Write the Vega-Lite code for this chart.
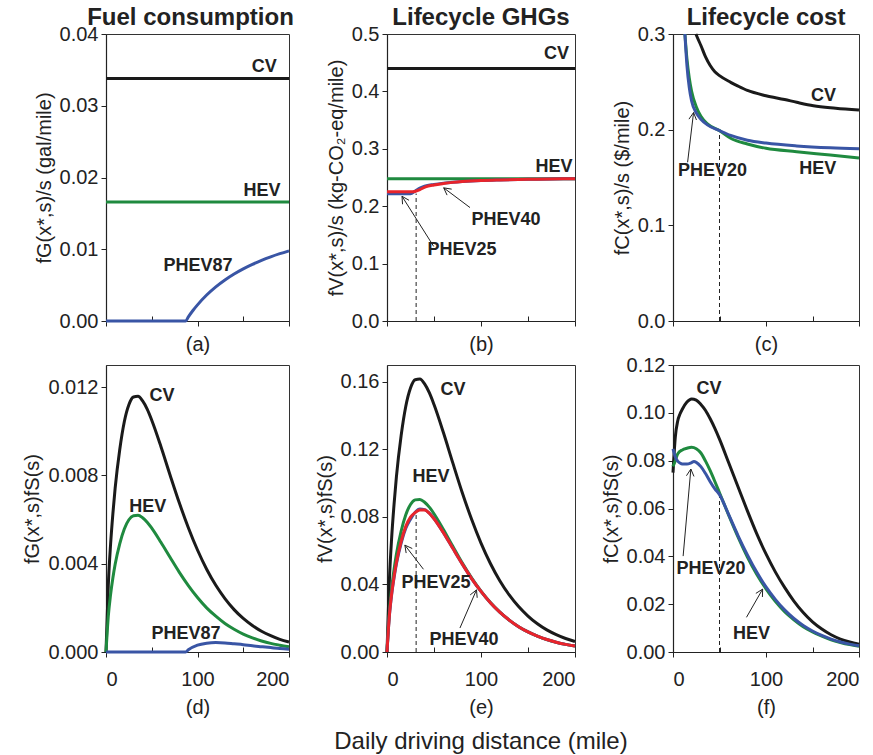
{
"$schema":"https://vega.github.io/schema/vega-lite/v6.json",
"background":"white",
"padding":{"left":22,"top":5,"right":5,"bottom":5},
"bounds":"flush",
"columns":3,
"spacing":{"row":44,"column":98},
"title":{"text":"Daily driving distance (mile)","orient":"bottom","anchor":"middle","frame":"bounds","dx":37,"fontSize":24,"fontWeight":"normal","offset":12,"color":"#222"},
"datasets":{
"curves":[
{"p":"a","k":"CV","s":0,"v":0.0338},{"p":"a","k":"CV","s":200,"v":0.0338},
{"p":"a","k":"HEV","s":0,"v":0.0166},{"p":"a","k":"HEV","s":200,"v":0.0166},
{"p":"a","k":"P","s":0,"v":0},{"p":"a","k":"P","s":87,"v":0},{"p":"a","k":"P","s":90,"v":0.00058},{"p":"a","k":"P","s":95,"v":0.00146},{"p":"a","k":"P","s":100,"v":0.00225},{"p":"a","k":"P","s":110,"v":0.00362},{"p":"a","k":"P","s":120,"v":0.00476},{"p":"a","k":"P","s":130,"v":0.00572},{"p":"a","k":"P","s":140,"v":0.00655},{"p":"a","k":"P","s":150,"v":0.00727},{"p":"a","k":"P","s":160,"v":0.00789},{"p":"a","k":"P","s":170,"v":0.00845},{"p":"a","k":"P","s":180,"v":0.00894},{"p":"a","k":"P","s":190,"v":0.00938},{"p":"a","k":"P","s":200,"v":0.00978},
{"p":"b","k":"CV","s":0,"v":0.44},{"p":"b","k":"CV","s":200,"v":0.44},
{"p":"b","k":"HEV","s":0,"v":0.248},{"p":"b","k":"HEV","s":200,"v":0.248},
{"p":"b","k":"P","s":0,"v":0.2215},{"p":"b","k":"P","s":25,"v":0.2215},{"p":"b","k":"P","s":30,"v":0.2265},{"p":"b","k":"P","s":35,"v":0.2315},{"p":"b","k":"P","s":40,"v":0.235},{"p":"b","k":"P","s":50,"v":0.238},{"p":"b","k":"P","s":60,"v":0.2402},{"p":"b","k":"P","s":70,"v":0.2418},{"p":"b","k":"P","s":80,"v":0.243},{"p":"b","k":"P","s":100,"v":0.2448},{"p":"b","k":"P","s":120,"v":0.2458},{"p":"b","k":"P","s":150,"v":0.2468},{"p":"b","k":"P","s":175,"v":0.2474},{"p":"b","k":"P","s":200,"v":0.248},
{"p":"b","k":"R","s":0,"v":0.225},{"p":"b","k":"R","s":27,"v":0.225},{"p":"b","k":"R","s":35,"v":0.229},{"p":"b","k":"R","s":41,"v":0.2337},{"p":"b","k":"R","s":50,"v":0.237},{"p":"b","k":"R","s":60,"v":0.2395},{"p":"b","k":"R","s":70,"v":0.2415},{"p":"b","k":"R","s":80,"v":0.243},{"p":"b","k":"R","s":100,"v":0.2448},{"p":"b","k":"R","s":120,"v":0.2458},{"p":"b","k":"R","s":150,"v":0.2468},{"p":"b","k":"R","s":175,"v":0.2474},{"p":"b","k":"R","s":200,"v":0.248},
{"p":"c","k":"CV","s":24.6,"v":0.3},{"p":"c","k":"CV","s":27,"v":0.2945},{"p":"c","k":"CV","s":30,"v":0.288},{"p":"c","k":"CV","s":35,"v":0.276},{"p":"c","k":"CV","s":40,"v":0.267},{"p":"c","k":"CV","s":45,"v":0.2605},{"p":"c","k":"CV","s":50,"v":0.2565},{"p":"c","k":"CV","s":62,"v":0.2495},{"p":"c","k":"CV","s":70,"v":0.2455},{"p":"c","k":"CV","s":80,"v":0.241},{"p":"c","k":"CV","s":100,"v":0.2355},{"p":"c","k":"CV","s":120,"v":0.2315},{"p":"c","k":"CV","s":133,"v":0.2286},{"p":"c","k":"CV","s":151,"v":0.225},{"p":"c","k":"CV","s":175,"v":0.2225},{"p":"c","k":"CV","s":200,"v":0.2205},
{"p":"c","k":"HEV","s":12.8,"v":0.3},{"p":"c","k":"HEV","s":15,"v":0.274},{"p":"c","k":"HEV","s":17.5,"v":0.254},{"p":"c","k":"HEV","s":20,"v":0.24},{"p":"c","k":"HEV","s":25,"v":0.224},{"p":"c","k":"HEV","s":30,"v":0.214},{"p":"c","k":"HEV","s":37,"v":0.206},{"p":"c","k":"HEV","s":50,"v":0.199},{"p":"c","k":"HEV","s":62,"v":0.191},{"p":"c","k":"HEV","s":80,"v":0.185},{"p":"c","k":"HEV","s":100,"v":0.1805},{"p":"c","k":"HEV","s":133,"v":0.177},{"p":"c","k":"HEV","s":169,"v":0.1735},{"p":"c","k":"HEV","s":200,"v":0.1704},
{"p":"c","k":"P","s":12.8,"v":0.3},{"p":"c","k":"P","s":15,"v":0.267},{"p":"c","k":"P","s":17.5,"v":0.244},{"p":"c","k":"P","s":20,"v":0.23},{"p":"c","k":"P","s":25,"v":0.2175},{"p":"c","k":"P","s":30,"v":0.211},{"p":"c","k":"P","s":37,"v":0.205},{"p":"c","k":"P","s":50,"v":0.199},{"p":"c","k":"P","s":62,"v":0.194},{"p":"c","k":"P","s":80,"v":0.189},{"p":"c","k":"P","s":100,"v":0.186},{"p":"c","k":"P","s":133,"v":0.183},{"p":"c","k":"P","s":169,"v":0.181},{"p":"c","k":"P","s":200,"v":0.18},
{"p":"d","k":"CV","s":0,"v":0},{"p":"d","k":"CV","s":2.5,"v":0.00302},{"p":"d","k":"CV","s":5,"v":0.00487},{"p":"d","k":"CV","s":7.5,"v":0.00626},{"p":"d","k":"CV","s":10,"v":0.00742},{"p":"d","k":"CV","s":15,"v":0.00916},{"p":"d","k":"CV","s":20,"v":0.01043},{"p":"d","k":"CV","s":25,"v":0.0112},{"p":"d","k":"CV","s":30,"v":0.01155},{"p":"d","k":"CV","s":35,"v":0.01158},{"p":"d","k":"CV","s":40,"v":0.01137},{"p":"d","k":"CV","s":45,"v":0.011},{"p":"d","k":"CV","s":50,"v":0.0105},{"p":"d","k":"CV","s":60,"v":0.00931},{"p":"d","k":"CV","s":70,"v":0.00802},{"p":"d","k":"CV","s":80,"v":0.00677},{"p":"d","k":"CV","s":90,"v":0.00563},{"p":"d","k":"CV","s":100,"v":0.00462},{"p":"d","k":"CV","s":110,"v":0.00375},{"p":"d","k":"CV","s":120,"v":0.00302},{"p":"d","k":"CV","s":130,"v":0.00242},{"p":"d","k":"CV","s":140,"v":0.00192},{"p":"d","k":"CV","s":150,"v":0.00152},{"p":"d","k":"CV","s":160,"v":0.0012},{"p":"d","k":"CV","s":170,"v":0.00094},{"p":"d","k":"CV","s":180,"v":0.00074},{"p":"d","k":"CV","s":190,"v":0.00057},{"p":"d","k":"CV","s":200,"v":0.00045},
{"p":"d","k":"HEV","s":0,"v":0},{"p":"d","k":"HEV","s":2.5,"v":0.00161},{"p":"d","k":"HEV","s":5,"v":0.0026},{"p":"d","k":"HEV","s":7.5,"v":0.00335},{"p":"d","k":"HEV","s":10,"v":0.00397},{"p":"d","k":"HEV","s":15,"v":0.0049},{"p":"d","k":"HEV","s":20,"v":0.00557},{"p":"d","k":"HEV","s":25,"v":0.00599},{"p":"d","k":"HEV","s":30,"v":0.00617},{"p":"d","k":"HEV","s":35,"v":0.00619},{"p":"d","k":"HEV","s":40,"v":0.00608},{"p":"d","k":"HEV","s":45,"v":0.00588},{"p":"d","k":"HEV","s":50,"v":0.00561},{"p":"d","k":"HEV","s":60,"v":0.00497},{"p":"d","k":"HEV","s":70,"v":0.00429},{"p":"d","k":"HEV","s":80,"v":0.00362},{"p":"d","k":"HEV","s":90,"v":0.00301},{"p":"d","k":"HEV","s":100,"v":0.00247},{"p":"d","k":"HEV","s":110,"v":0.002},{"p":"d","k":"HEV","s":120,"v":0.00162},{"p":"d","k":"HEV","s":130,"v":0.00129},{"p":"d","k":"HEV","s":140,"v":0.00103},{"p":"d","k":"HEV","s":150,"v":0.00081},{"p":"d","k":"HEV","s":160,"v":0.00064},{"p":"d","k":"HEV","s":170,"v":0.0005},{"p":"d","k":"HEV","s":180,"v":0.00039},{"p":"d","k":"HEV","s":190,"v":0.00031},{"p":"d","k":"HEV","s":200,"v":0.00024},
{"p":"d","k":"P","s":0,"v":0},{"p":"d","k":"P","s":87,"v":0},{"p":"d","k":"P","s":90,"v":0.0001},{"p":"d","k":"P","s":100,"v":0.00031},{"p":"d","k":"P","s":110,"v":0.0004},{"p":"d","k":"P","s":120,"v":0.00043},{"p":"d","k":"P","s":130,"v":0.00041},{"p":"d","k":"P","s":140,"v":0.00037},{"p":"d","k":"P","s":150,"v":0.00033},{"p":"d","k":"P","s":160,"v":0.00028},{"p":"d","k":"P","s":170,"v":0.00024},{"p":"d","k":"P","s":180,"v":0.0002},{"p":"d","k":"P","s":190,"v":0.00016},{"p":"d","k":"P","s":200,"v":0.00013},
{"p":"e","k":"CV","s":0,"v":0},{"p":"e","k":"CV","s":2.5,"v":0.0421},{"p":"e","k":"CV","s":5,"v":0.068},{"p":"e","k":"CV","s":7.5,"v":0.0875},{"p":"e","k":"CV","s":10,"v":0.1037},{"p":"e","k":"CV","s":15,"v":0.128},{"p":"e","k":"CV","s":20,"v":0.1456},{"p":"e","k":"CV","s":25,"v":0.1564},{"p":"e","k":"CV","s":30,"v":0.1613},{"p":"e","k":"CV","s":35,"v":0.1617},{"p":"e","k":"CV","s":40,"v":0.1588},{"p":"e","k":"CV","s":45,"v":0.1536},{"p":"e","k":"CV","s":50,"v":0.1466},{"p":"e","k":"CV","s":60,"v":0.13},{"p":"e","k":"CV","s":70,"v":0.112},{"p":"e","k":"CV","s":80,"v":0.0945},{"p":"e","k":"CV","s":90,"v":0.0786},{"p":"e","k":"CV","s":100,"v":0.0645},{"p":"e","k":"CV","s":110,"v":0.0524},{"p":"e","k":"CV","s":120,"v":0.0422},{"p":"e","k":"CV","s":130,"v":0.0338},{"p":"e","k":"CV","s":140,"v":0.0269},{"p":"e","k":"CV","s":150,"v":0.0213},{"p":"e","k":"CV","s":160,"v":0.0167},{"p":"e","k":"CV","s":170,"v":0.0131},{"p":"e","k":"CV","s":180,"v":0.0103},{"p":"e","k":"CV","s":190,"v":0.008},{"p":"e","k":"CV","s":200,"v":0.0062},
{"p":"e","k":"HEV","s":0,"v":0},{"p":"e","k":"HEV","s":2.5,"v":0.0235},{"p":"e","k":"HEV","s":5,"v":0.038},{"p":"e","k":"HEV","s":7.5,"v":0.0489},{"p":"e","k":"HEV","s":10,"v":0.0579},{"p":"e","k":"HEV","s":15,"v":0.0715},{"p":"e","k":"HEV","s":20,"v":0.0813},{"p":"e","k":"HEV","s":25,"v":0.0874},{"p":"e","k":"HEV","s":30,"v":0.0901},{"p":"e","k":"HEV","s":35,"v":0.0904},{"p":"e","k":"HEV","s":40,"v":0.0887},{"p":"e","k":"HEV","s":45,"v":0.0858},{"p":"e","k":"HEV","s":50,"v":0.0819},{"p":"e","k":"HEV","s":60,"v":0.0726},{"p":"e","k":"HEV","s":70,"v":0.0626},{"p":"e","k":"HEV","s":80,"v":0.0528},{"p":"e","k":"HEV","s":90,"v":0.0439},{"p":"e","k":"HEV","s":100,"v":0.036},{"p":"e","k":"HEV","s":110,"v":0.0293},{"p":"e","k":"HEV","s":120,"v":0.0236},{"p":"e","k":"HEV","s":130,"v":0.0189},{"p":"e","k":"HEV","s":140,"v":0.015},{"p":"e","k":"HEV","s":150,"v":0.0119},{"p":"e","k":"HEV","s":160,"v":0.0094},{"p":"e","k":"HEV","s":170,"v":0.0073},{"p":"e","k":"HEV","s":180,"v":0.0057},{"p":"e","k":"HEV","s":190,"v":0.0045},{"p":"e","k":"HEV","s":200,"v":0.0035},
{"p":"e","k":"P","s":0,"v":0},{"p":"e","k":"P","s":2.5,"v":0.0212},{"p":"e","k":"P","s":5,"v":0.0342},{"p":"e","k":"P","s":7.5,"v":0.044},{"p":"e","k":"P","s":10,"v":0.0522},{"p":"e","k":"P","s":15,"v":0.0644},{"p":"e","k":"P","s":20,"v":0.0733},{"p":"e","k":"P","s":25,"v":0.0787},{"p":"e","k":"P","s":30,"v":0.0828},{"p":"e","k":"P","s":35,"v":0.0847},{"p":"e","k":"P","s":40,"v":0.0843},{"p":"e","k":"P","s":45,"v":0.0823},{"p":"e","k":"P","s":50,"v":0.0791},{"p":"e","k":"P","s":60,"v":0.0707},{"p":"e","k":"P","s":70,"v":0.0614},{"p":"e","k":"P","s":80,"v":0.0522},{"p":"e","k":"P","s":90,"v":0.0435},{"p":"e","k":"P","s":100,"v":0.0359},{"p":"e","k":"P","s":110,"v":0.0292},{"p":"e","k":"P","s":120,"v":0.0236},{"p":"e","k":"P","s":130,"v":0.0189},{"p":"e","k":"P","s":140,"v":0.015},{"p":"e","k":"P","s":150,"v":0.0119},{"p":"e","k":"P","s":160,"v":0.0094},{"p":"e","k":"P","s":170,"v":0.0074},{"p":"e","k":"P","s":180,"v":0.0058},{"p":"e","k":"P","s":190,"v":0.0045},{"p":"e","k":"P","s":200,"v":0.0035},
{"p":"e","k":"R","s":0,"v":0},{"p":"e","k":"R","s":2.5,"v":0.0215},{"p":"e","k":"R","s":5,"v":0.0348},{"p":"e","k":"R","s":7.5,"v":0.0447},{"p":"e","k":"R","s":10,"v":0.053},{"p":"e","k":"R","s":15,"v":0.0654},{"p":"e","k":"R","s":20,"v":0.0744},{"p":"e","k":"R","s":25,"v":0.0799},{"p":"e","k":"R","s":30,"v":0.0826},{"p":"e","k":"R","s":35,"v":0.0841},{"p":"e","k":"R","s":40,"v":0.0841},{"p":"e","k":"R","s":45,"v":0.0822},{"p":"e","k":"R","s":50,"v":0.0789},{"p":"e","k":"R","s":60,"v":0.0707},{"p":"e","k":"R","s":70,"v":0.0614},{"p":"e","k":"R","s":80,"v":0.0522},{"p":"e","k":"R","s":90,"v":0.0435},{"p":"e","k":"R","s":100,"v":0.0359},{"p":"e","k":"R","s":110,"v":0.0292},{"p":"e","k":"R","s":120,"v":0.0236},{"p":"e","k":"R","s":130,"v":0.0189},{"p":"e","k":"R","s":140,"v":0.015},{"p":"e","k":"R","s":150,"v":0.0119},{"p":"e","k":"R","s":160,"v":0.0094},{"p":"e","k":"R","s":170,"v":0.0074},{"p":"e","k":"R","s":180,"v":0.0058},{"p":"e","k":"R","s":190,"v":0.0045},{"p":"e","k":"R","s":200,"v":0.0035},
{"p":"f","k":"CV","s":0,"v":0.075},{"p":"f","k":"CV","s":2.5,"v":0.09},{"p":"f","k":"CV","s":5,"v":0.0965},{"p":"f","k":"CV","s":7.5,"v":0.0995},{"p":"f","k":"CV","s":10,"v":0.1015},{"p":"f","k":"CV","s":15,"v":0.1045},{"p":"f","k":"CV","s":20,"v":0.1058},{"p":"f","k":"CV","s":25,"v":0.1053},{"p":"f","k":"CV","s":30,"v":0.1035},{"p":"f","k":"CV","s":35,"v":0.101},{"p":"f","k":"CV","s":40,"v":0.0975},{"p":"f","k":"CV","s":45,"v":0.0935},{"p":"f","k":"CV","s":50,"v":0.089},{"p":"f","k":"CV","s":60,"v":0.079},{"p":"f","k":"CV","s":70,"v":0.069},{"p":"f","k":"CV","s":80,"v":0.059},{"p":"f","k":"CV","s":90,"v":0.0495},{"p":"f","k":"CV","s":100,"v":0.041},{"p":"f","k":"CV","s":110,"v":0.0335},{"p":"f","k":"CV","s":120,"v":0.027},{"p":"f","k":"CV","s":130,"v":0.0213},{"p":"f","k":"CV","s":140,"v":0.0165},{"p":"f","k":"CV","s":150,"v":0.0126},{"p":"f","k":"CV","s":160,"v":0.0096},{"p":"f","k":"CV","s":170,"v":0.0072},{"p":"f","k":"CV","s":180,"v":0.0054},{"p":"f","k":"CV","s":190,"v":0.0042},{"p":"f","k":"CV","s":200,"v":0.0033},
{"p":"f","k":"HEV","s":0,"v":0.0776},{"p":"f","k":"HEV","s":2.5,"v":0.08},{"p":"f","k":"HEV","s":5,"v":0.0828},{"p":"f","k":"HEV","s":10,"v":0.0845},{"p":"f","k":"HEV","s":15,"v":0.0852},{"p":"f","k":"HEV","s":20,"v":0.0856},{"p":"f","k":"HEV","s":25,"v":0.085},{"p":"f","k":"HEV","s":30,"v":0.0832},{"p":"f","k":"HEV","s":35,"v":0.0798},{"p":"f","k":"HEV","s":40,"v":0.0758},{"p":"f","k":"HEV","s":45,"v":0.0713},{"p":"f","k":"HEV","s":50,"v":0.0666},{"p":"f","k":"HEV","s":60,"v":0.0571},{"p":"f","k":"HEV","s":70,"v":0.048},{"p":"f","k":"HEV","s":80,"v":0.0397},{"p":"f","k":"HEV","s":90,"v":0.0325},{"p":"f","k":"HEV","s":100,"v":0.0264},{"p":"f","k":"HEV","s":110,"v":0.0212},{"p":"f","k":"HEV","s":120,"v":0.0169},{"p":"f","k":"HEV","s":130,"v":0.0135},{"p":"f","k":"HEV","s":140,"v":0.0106},{"p":"f","k":"HEV","s":150,"v":0.0084},{"p":"f","k":"HEV","s":160,"v":0.0066},{"p":"f","k":"HEV","s":170,"v":0.0051},{"p":"f","k":"HEV","s":180,"v":0.004},{"p":"f","k":"HEV","s":190,"v":0.0031},{"p":"f","k":"HEV","s":200,"v":0.0024},
{"p":"f","k":"P","s":0,"v":0.0849},{"p":"f","k":"P","s":2.5,"v":0.0815},{"p":"f","k":"P","s":5,"v":0.0798},{"p":"f","k":"P","s":7.5,"v":0.079},{"p":"f","k":"P","s":10,"v":0.0786},{"p":"f","k":"P","s":15,"v":0.0786},{"p":"f","k":"P","s":20,"v":0.0792},{"p":"f","k":"P","s":22.5,"v":0.0796},{"p":"f","k":"P","s":25,"v":0.0793},{"p":"f","k":"P","s":30,"v":0.0775},{"p":"f","k":"P","s":35,"v":0.0746},{"p":"f","k":"P","s":40,"v":0.0712},{"p":"f","k":"P","s":45,"v":0.0682},{"p":"f","k":"P","s":50,"v":0.0658},{"p":"f","k":"P","s":60,"v":0.0573},{"p":"f","k":"P","s":70,"v":0.0486},{"p":"f","k":"P","s":80,"v":0.0406},{"p":"f","k":"P","s":90,"v":0.0334},{"p":"f","k":"P","s":100,"v":0.0272},{"p":"f","k":"P","s":110,"v":0.022},{"p":"f","k":"P","s":120,"v":0.0176},{"p":"f","k":"P","s":130,"v":0.014},{"p":"f","k":"P","s":140,"v":0.0111},{"p":"f","k":"P","s":150,"v":0.0088},{"p":"f","k":"P","s":160,"v":0.0069},{"p":"f","k":"P","s":170,"v":0.0054},{"p":"f","k":"P","s":180,"v":0.0042},{"p":"f","k":"P","s":190,"v":0.0033},{"p":"f","k":"P","s":200,"v":0.0026}
],
"lab":[
{"p":"a","t":"CV","s":173,"v":0.0354},{"p":"a","t":"HEV","s":170.5,"v":0.0181},{"p":"a","t":"PHEV87","s":100.5,"v":0.0077},
{"p":"b","t":"CV","s":180.3,"v":0.465},{"p":"b","t":"HEV","s":177.7,"v":0.269},{"p":"b","t":"PHEV40","s":126.6,"v":0.1766},{"p":"b","t":"PHEV25","s":79.8,"v":0.1241},
{"p":"c","t":"CV","s":161.9,"v":0.2352},{"p":"c","t":"HEV","s":155.6,"v":0.1589},{"p":"c","t":"PHEV20","s":42.5,"v":0.1568},
{"p":"d","t":"CV","s":61.2,"v":0.0116},{"p":"d","t":"HEV","s":45.5,"v":0.00658},{"p":"d","t":"PHEV87","s":87.4,"v":0.000804},
{"p":"e","t":"CV","s":70.1,"v":0.1554},{"p":"e","t":"HEV","s":46.8,"v":0.1038},{"p":"e","t":"PHEV25","s":52.1,"v":0.0407},{"p":"e","t":"PHEV40","s":82,"v":0.0073},
{"p":"f","t":"CV","s":38.6,"v":0.1099},{"p":"f","t":"PHEV20","s":40.9,"v":0.0347},{"p":"f","t":"HEV","s":84.5,"v":0.0075}
],
"arr":[
{"p":"b","s":49.7,"v":0.1299,"s2":15.96,"v2":0.2173},{"p":"b","s":15.96,"v":0.2173,"s2":16.54,"v2":0.2034},{"p":"b","s":15.96,"v":0.2173,"s2":23.44,"v2":0.2103},
{"p":"b","s":88.3,"v":0.1976,"s2":60.3,"v2":0.232},{"p":"b","s":60.3,"v":0.232,"s2":63.91,"v2":0.2193},{"p":"b","s":60.3,"v":0.232,"s2":68.83,"v2":0.2297},
{"p":"c","s":15.7,"v":0.1659,"s2":22.1,"v2":0.2179},{"p":"c","s":22.1,"v":0.2179,"s2":17.17,"v2":0.211},{"p":"c","s":22.1,"v":0.2179,"s2":25.23,"v2":0.2101},
{"p":"e","s":38.8,"v":0.049,"s2":19,"v2":0.0633},{"p":"e","s":19,"v":0.0633,"s2":20.38,"v2":0.0586},{"p":"e","s":19,"v":0.0633,"s2":26.85,"v2":0.0613},
{"p":"e","s":77.6,"v":0.0142,"s2":95.2,"v2":0.0368},{"p":"e","s":95.2,"v":0.0368,"s2":88.47,"v2":0.0338},{"p":"e","s":95.2,"v":0.0368,"s2":95.94,"v2":0.0321},
{"p":"f","s":10.9,"v":0.0401,"s2":19.2,"v2":0.0765},{"p":"f","s":19.2,"v":0.0765,"s2":14.48,"v2":0.0737},{"p":"f","s":19.2,"v":0.0765,"s2":22.57,"v2":0.0734},
{"p":"f","s":79,"v":0.0145,"s2":96.4,"v2":0.0263},{"p":"f","s":96.4,"v":0.0263,"s2":89.09,"v2":0.0245},{"p":"f","s":96.4,"v":0.0263,"s2":96.14,"v2":0.023}
],
"dash":[
{"p":"b","s":31,"v":0,"v2":0.222},{"p":"c","s":50,"v":0,"v2":0.199},{"p":"e","s":31,"v":0,"v2":0.083},{"p":"f","s":50,"v":0,"v2":0.066}
]
},
"concat":[
{"width":183,"height":287,"title":{"text":"Fuel consumption","dx":-7},"data":{"name":"curves"},
"encoding":{"x":{"field":"s","type":"quantitative","scale":{"domain":[0,200],"nice":false},"axis":{"title":"(a)","values":[0,50,100,150,200],"labels":false,"titlePadding":8,"tickSize":{"condition":{"test":"datum.value % 100 === 0","value":5},"value":-5}}},
"y":{"field":"v","type":"quantitative","scale":{"domain":[0,0.04],"nice":false},"axis":{"title":"fG(x*,s)/s (gal/mile)","values":[0,0.01,0.02,0.03,0.04],"format":".2f"}}},
"layer":[
{"transform":[{"filter":"datum.p=='a' && datum.k=='CV'"}],"mark":{"type":"line","color":"#1a1a1a"},"encoding":{}},
{"transform":[{"filter":"datum.p=='a' && datum.k=='HEV'"}],"mark":{"type":"line","color":"#1f8a3f"},"encoding":{}},
{"transform":[{"filter":"datum.p=='a' && datum.k=='P'"}],"mark":{"type":"line","color":"#3955a5"},"encoding":{}},
{"data":{"name":"lab"},"transform":[{"filter":"datum.p=='a'"}],"mark":{"type":"text"},"encoding":{"text":{"field":"t"}}}
]},
{"width":188,"height":287,"title":"Lifecycle GHGs","data":{"name":"curves"},
"encoding":{"x":{"field":"s","type":"quantitative","scale":{"domain":[0,200],"nice":false},"axis":{"title":"(b)","values":[0,50,100,150,200],"labels":false,"titlePadding":8,"tickSize":{"condition":{"test":"datum.value % 100 === 0","value":5},"value":-5}}},
"y":{"field":"v","type":"quantitative","scale":{"domain":[0,0.5],"nice":false},"axis":{"title":"fV(x*,s)/s (kg-CO₂-eq/mile)","values":[0,0.1,0.2,0.3,0.4,0.5],"format":".1f"}}},
"layer":[
{"data":{"name":"dash"},"transform":[{"filter":"datum.p=='b'"}],"mark":{"type":"rule","strokeDash":[4,3],"color":"#222","strokeWidth":1},"encoding":{"y2":{"field":"v2"}}},
{"transform":[{"filter":"datum.p=='b' && datum.k=='CV'"}],"mark":{"type":"line","color":"#1a1a1a"},"encoding":{}},
{"transform":[{"filter":"datum.p=='b' && datum.k=='HEV'"}],"mark":{"type":"line","color":"#1f8a3f"},"encoding":{}},
{"transform":[{"filter":"datum.p=='b' && datum.k=='P'"}],"mark":{"type":"line","color":"#3955a5"},"encoding":{}},
{"transform":[{"filter":"datum.p=='b' && datum.k=='R'"}],"mark":{"type":"line","color":"#e8242b"},"encoding":{}},
{"data":{"name":"arr"},"transform":[{"filter":"datum.p=='b'"}],"mark":{"type":"rule","color":"#222","strokeWidth":1},"encoding":{"x2":{"field":"s2"},"y2":{"field":"v2"}}},
{"data":{"name":"lab"},"transform":[{"filter":"datum.p=='b'"}],"mark":{"type":"text"},"encoding":{"text":{"field":"t"}}}
]},
{"width":186,"height":287,"title":"Lifecycle cost","data":{"name":"curves"},
"encoding":{"x":{"field":"s","type":"quantitative","scale":{"domain":[0,200],"nice":false},"axis":{"title":"(c)","values":[0,50,100,150,200],"labels":false,"titlePadding":8,"tickSize":{"condition":{"test":"datum.value % 100 === 0","value":5},"value":-5}}},
"y":{"field":"v","type":"quantitative","scale":{"domain":[0,0.3],"nice":false},"axis":{"title":"fC(x*,s)/s ($/mile)","values":[0,0.1,0.2,0.3],"format":".1f"}}},
"layer":[
{"data":{"name":"dash"},"transform":[{"filter":"datum.p=='c'"}],"mark":{"type":"rule","strokeDash":[4,3],"color":"#222","strokeWidth":1},"encoding":{"y2":{"field":"v2"}}},
{"transform":[{"filter":"datum.p=='c' && datum.k=='CV'"}],"mark":{"type":"line","color":"#1a1a1a"},"encoding":{}},
{"transform":[{"filter":"datum.p=='c' && datum.k=='HEV'"}],"mark":{"type":"line","color":"#1f8a3f"},"encoding":{}},
{"transform":[{"filter":"datum.p=='c' && datum.k=='P'"}],"mark":{"type":"line","color":"#3955a5"},"encoding":{}},
{"data":{"name":"arr"},"transform":[{"filter":"datum.p=='c'"}],"mark":{"type":"rule","color":"#222","strokeWidth":1},"encoding":{"x2":{"field":"s2"},"y2":{"field":"v2"}}},
{"data":{"name":"lab"},"transform":[{"filter":"datum.p=='c'"}],"mark":{"type":"text"},"encoding":{"text":{"field":"t"}}}
]},
{"width":183,"height":287,"data":{"name":"curves"},
"encoding":{"x":{"field":"s","type":"quantitative","scale":{"domain":[0,200],"nice":false},"axis":{"title":"(d)","values":[0,50,100,150,200],"labelExpr":"datum.value % 100 === 0 ? datum.label : ''","labelPadding":12,"titlePadding":8,"tickSize":{"condition":{"test":"datum.value % 100 === 0","value":5},"value":-5}}},
"y":{"field":"v","type":"quantitative","scale":{"domain":[0,0.013],"nice":false},"axis":{"title":"fG(x*,s)fS(s)","values":[0,0.004,0.008,0.012],"format":".3f"}}},
"layer":[
{"transform":[{"filter":"datum.p=='d' && datum.k=='CV'"}],"mark":{"type":"line","color":"#1a1a1a"},"encoding":{}},
{"transform":[{"filter":"datum.p=='d' && datum.k=='HEV'"}],"mark":{"type":"line","color":"#1f8a3f"},"encoding":{}},
{"transform":[{"filter":"datum.p=='d' && datum.k=='P'"}],"mark":{"type":"line","color":"#3955a5"},"encoding":{}},
{"data":{"name":"lab"},"transform":[{"filter":"datum.p=='d'"}],"mark":{"type":"text"},"encoding":{"text":{"field":"t"}}}
]},
{"width":188,"height":287,"data":{"name":"curves"},
"encoding":{"x":{"field":"s","type":"quantitative","scale":{"domain":[0,200],"nice":false},"axis":{"title":"(e)","values":[0,50,100,150,200],"labelExpr":"datum.value % 100 === 0 ? datum.label : ''","labelPadding":12,"titlePadding":8,"tickSize":{"condition":{"test":"datum.value % 100 === 0","value":5},"value":-5}}},
"y":{"field":"v","type":"quantitative","scale":{"domain":[0,0.17],"nice":false},"axis":{"title":"fV(x*,s)fS(s)","values":[0,0.04,0.08,0.12,0.16],"format":".2f"}}},
"layer":[
{"data":{"name":"dash"},"transform":[{"filter":"datum.p=='e'"}],"mark":{"type":"rule","strokeDash":[4,3],"color":"#222","strokeWidth":1},"encoding":{"y2":{"field":"v2"}}},
{"transform":[{"filter":"datum.p=='e' && datum.k=='CV'"}],"mark":{"type":"line","color":"#1a1a1a"},"encoding":{}},
{"transform":[{"filter":"datum.p=='e' && datum.k=='HEV'"}],"mark":{"type":"line","color":"#1f8a3f"},"encoding":{}},
{"transform":[{"filter":"datum.p=='e' && datum.k=='P'"}],"mark":{"type":"line","color":"#3955a5"},"encoding":{}},
{"transform":[{"filter":"datum.p=='e' && datum.k=='R'"}],"mark":{"type":"line","color":"#e8242b"},"encoding":{}},
{"data":{"name":"arr"},"transform":[{"filter":"datum.p=='e'"}],"mark":{"type":"rule","color":"#222","strokeWidth":1},"encoding":{"x2":{"field":"s2"},"y2":{"field":"v2"}}},
{"data":{"name":"lab"},"transform":[{"filter":"datum.p=='e'"}],"mark":{"type":"text"},"encoding":{"text":{"field":"t"}}}
]},
{"width":186,"height":287,"data":{"name":"curves"},
"encoding":{"x":{"field":"s","type":"quantitative","scale":{"domain":[0,200],"nice":false},"axis":{"title":"(f)","values":[0,50,100,150,200],"labelExpr":"datum.value % 100 === 0 ? datum.label : ''","labelPadding":12,"titlePadding":8,"tickSize":{"condition":{"test":"datum.value % 100 === 0","value":5},"value":-5}}},
"y":{"field":"v","type":"quantitative","scale":{"domain":[0,0.12],"nice":false},"axis":{"title":"fC(x*,s)fS(s)","values":[0,0.02,0.04,0.06,0.08,0.1,0.12],"format":".2f"}}},
"layer":[
{"data":{"name":"dash"},"transform":[{"filter":"datum.p=='f'"}],"mark":{"type":"rule","strokeDash":[4,3],"color":"#222","strokeWidth":1},"encoding":{"y2":{"field":"v2"}}},
{"transform":[{"filter":"datum.p=='f' && datum.k=='CV'"}],"mark":{"type":"line","color":"#1a1a1a"},"encoding":{}},
{"transform":[{"filter":"datum.p=='f' && datum.k=='HEV'"}],"mark":{"type":"line","color":"#1f8a3f"},"encoding":{}},
{"transform":[{"filter":"datum.p=='f' && datum.k=='P'"}],"mark":{"type":"line","color":"#3955a5"},"encoding":{}},
{"data":{"name":"arr"},"transform":[{"filter":"datum.p=='f'"}],"mark":{"type":"rule","color":"#222","strokeWidth":1},"encoding":{"x2":{"field":"s2"},"y2":{"field":"v2"}}},
{"data":{"name":"lab"},"transform":[{"filter":"datum.p=='f'"}],"mark":{"type":"text"},"encoding":{"text":{"field":"t"}}}
]}
],
"config":{
"font":"Liberation Sans",
"view":{"stroke":"#333","strokeWidth":1},
"axis":{"grid":false,"labelFontSize":20,"labelColor":"#222","labelPadding":3,"titleFontSize":20,"titleFontWeight":"normal","titleColor":"#222","titlePadding":5,"domainColor":"#222","domainWidth":1.2,"tickColor":"#222","tickSize":5,"labelFont":"Liberation Sans","titleFont":"Liberation Sans"},
"line":{"strokeWidth":3,"interpolate":"monotone"},
"text":{"fontSize":18,"fontWeight":"bold","align":"center","baseline":"middle","color":"#222","font":"Liberation Sans"},
"title":{"fontSize":24,"fontWeight":"bold","color":"#222","offset":-6,"anchor":"middle","frame":"group","font":"Liberation Sans"}
}
}
